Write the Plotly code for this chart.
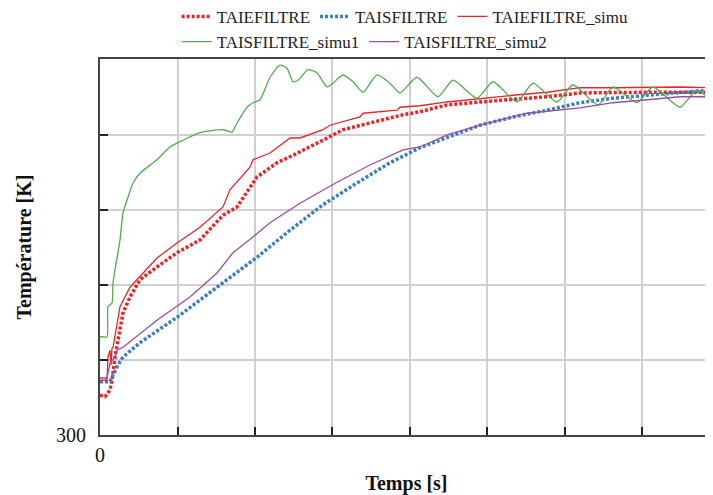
import plotly.graph_objects as go

# ---------------- data ----------------
t_taie = [0, 65, 129, 155, 194, 232, 297, 387, 516, 735, 994, 1290, 1587, 1768, 2026, 2284, 2452,
          2877, 3135, 3523, 3910, 4129, 4477, 4903, 5329, 5768, 6194, 6619, 7058, 7484, 7910]
y_taie = [305.3, 305.1, 306.0, 307.3, 310.4, 312.7, 316.3, 318.4, 320.7, 322.4, 324.3, 326.0, 329.3,
          330.4, 334.4, 336.3, 337.1, 339.3, 340.7, 341.7, 342.7, 343.1, 344.0, 344.4, 344.7, 345.1,
          345.6, 345.7, 345.7, 345.7, 345.7]

t_tais = [0, 129, 219, 297, 516, 994, 1587, 2026, 2452, 2877, 3316, 3742, 4129, 4477, 4903, 5329,
          5768, 6194, 6619, 7058, 7484, 7910]
y_tais = [307.1, 307.1, 309.1, 310.4, 312.3, 315.7, 320.3, 323.7, 327.3, 330.7, 333.6, 336.3, 338.3,
          339.7, 341.3, 342.4, 343.3, 344.3, 344.9, 345.3, 345.7, 346.0]

t_taie_simu = [0, 90, 103, 129, 142, 155, 168, 258, 387, 555, 735, 994, 1290, 1587, 1677, 1935, 1974,
               2194, 2452, 2581, 2877, 2968, 3355, 3394, 3832, 3871, 4129, 4477, 4903, 5329, 5768,
               6194, 6619, 7058, 7484, 7910]
y_taie_simu = [307.3, 307.3, 310.4, 311.3, 309.3, 311.6, 311.7, 317.1, 319.7, 321.6, 323.6, 325.6,
               327.7, 330.4, 332.7, 335.7, 336.7, 337.6, 339.6, 339.6, 340.7, 341.3, 342.4, 342.9,
               343.3, 343.7, 343.9, 344.4, 344.9, 345.3, 345.7, 346.3, 346.3, 346.4, 346.4, 346.3]

t_simu1 = [0, 90, 103, 155, 168, 258, 297, 348, 426, 516, 735, 903, 1071, 1290, 1587, 1703, 1768,
           1897, 1974, 2065, 2194, 2323, 2413, 2490, 2555, 2684, 2800, 2929, 3006, 3135, 3265, 3394,
           3574, 3742, 3871, 4090, 4361, 4555, 4865, 5071, 5381, 5587, 5897, 6103, 6426, 6619,
           6929, 7135, 7484, 7703, 7910]
y_simu1 = [313.1, 313.1, 317.1, 317.6, 320.3, 326.0, 329.6, 331.3, 333.6, 334.9, 336.7, 338.4, 339.3,
           340.3, 340.7, 340.4, 341.6, 343.7, 344.3, 344.7, 347.7, 349.3, 348.9, 347.1, 347.3, 348.7,
           348.3, 346.4, 346.9, 348.0, 347.1, 345.7, 348.0, 346.9, 345.6, 347.7, 345.1, 347.3, 344.9,
           347.1, 344.4, 346.9, 344.4, 346.7, 344.0, 346.4, 344.3, 346.4, 343.7, 346.0, 344.3]

t_simu2 = [0, 90, 129, 194, 219, 297, 735, 1161, 1510, 1716, 1974, 2194, 2581, 3058, 3484, 3910,
           4129, 4477, 4903, 5510, 6194, 6413, 6619, 7058, 7484, 7910]
y_simu2 = [307.6, 307.6, 309.6, 310.4, 311.3, 311.7, 315.3, 318.4, 321.6, 324.3, 326.4, 328.3, 330.9,
           333.7, 336.0, 338.0, 338.4, 340.0, 341.3, 342.9, 343.6, 344.0, 344.3, 344.7, 345.1, 345.1]

x_tickvals = [0, 1000, 2000, 3000, 4000, 5000, 6000, 7000]
x_ticktext = ["0", "", "", "", "", "", "", ""]
y_tickvals = [300, 310, 320, 330, 340, 350]
y_ticktext = ["300", "", "", "", "", ""]

RED = "#e8262a"
BLUE = "#3a80c0"
GREEN = "#4daf4a"
PURPLE = "#984ea3"
FONT = "Liberation Serif"

fig = go.Figure()
fig.add_trace(go.Scatter(x=t_taie, y=y_taie, name="TAIEFILTRE", mode="lines",
                         line=dict(color=RED, width=3.5, dash="3px,2px"), legend="legend"))
fig.add_trace(go.Scatter(x=t_tais, y=y_tais, name="TAISFILTRE", mode="lines",
                         line=dict(color=BLUE, width=3.5, dash="3px,2px"), legend="legend"))
fig.add_trace(go.Scatter(x=t_taie_simu, y=y_taie_simu, name="TAIEFILTRE_simu", mode="lines",
                         line=dict(color=RED, width=1.3), legend="legend"))
fig.add_trace(go.Scatter(x=t_simu1, y=y_simu1, name="TAISFILTRE_simu1", mode="lines",
                         line=dict(color=GREEN, width=1.3, shape="spline", smoothing=0.6),
                         legend="legend2"))
fig.add_trace(go.Scatter(x=t_simu2, y=y_simu2, name="TAISFILTRE_simu2", mode="lines",
                         line=dict(color=PURPLE, width=1.3), legend="legend2"))

leg_common = dict(orientation="h", xanchor="left", yanchor="middle",
                  font=dict(family=FONT, size=17, color="#222"), bgcolor="rgba(0,0,0,0)",
                  itemwidth=30, tracegroupgap=0)

# The page body has an 8px default margin; the figure is sized so that it
# ends exactly at the window edge.
fig.update_layout(
    width=705, height=487,
    margin=dict(l=92, r=0, t=51, b=60, autoexpand=False),
    paper_bgcolor="white", plot_bgcolor="white",
    font=dict(family=FONT, color="#111"),
    legend=dict(x=0.125, y=1.112, **leg_common),
    legend2=dict(x=0.125, y=1.045, **leg_common),
    xaxis=dict(range=[0, 7910], tickvals=x_tickvals, ticktext=x_ticktext,
               showgrid=True, gridcolor="#d0d0d0", gridwidth=1.5,
               showline=True, linecolor="#444", linewidth=2, mirror=True,
               ticks="inside", ticklen=8, tickwidth=1.5, tickcolor="#222",
               tickfont=dict(family=FONT, size=20, color="#111"),
               ticklabelstandoff=1, zeroline=False, automargin=False,
               title=dict(text="<b>Temps [s]</b>", font=dict(family=FONT, size=20, color="#111"),
                          standoff=11)),
    yaxis=dict(range=[300, 350.13], tickvals=y_tickvals, ticktext=y_ticktext,
               showgrid=True, gridcolor="#d0d0d0", gridwidth=1.5,
               showline=True, linecolor="#444", linewidth=2, mirror=False,
               ticks="inside", ticklen=8, tickwidth=1.5, tickcolor="#222",
               tickfont=dict(family=FONT, size=20, color="#111"),
               ticklabelstandoff=8, zeroline=False, automargin=False,
               title=dict(text="<b>Température [K]</b>", font=dict(family=FONT, size=20, color="#111"),
                          standoff=19)),
)

fig.write_html("out.html")
